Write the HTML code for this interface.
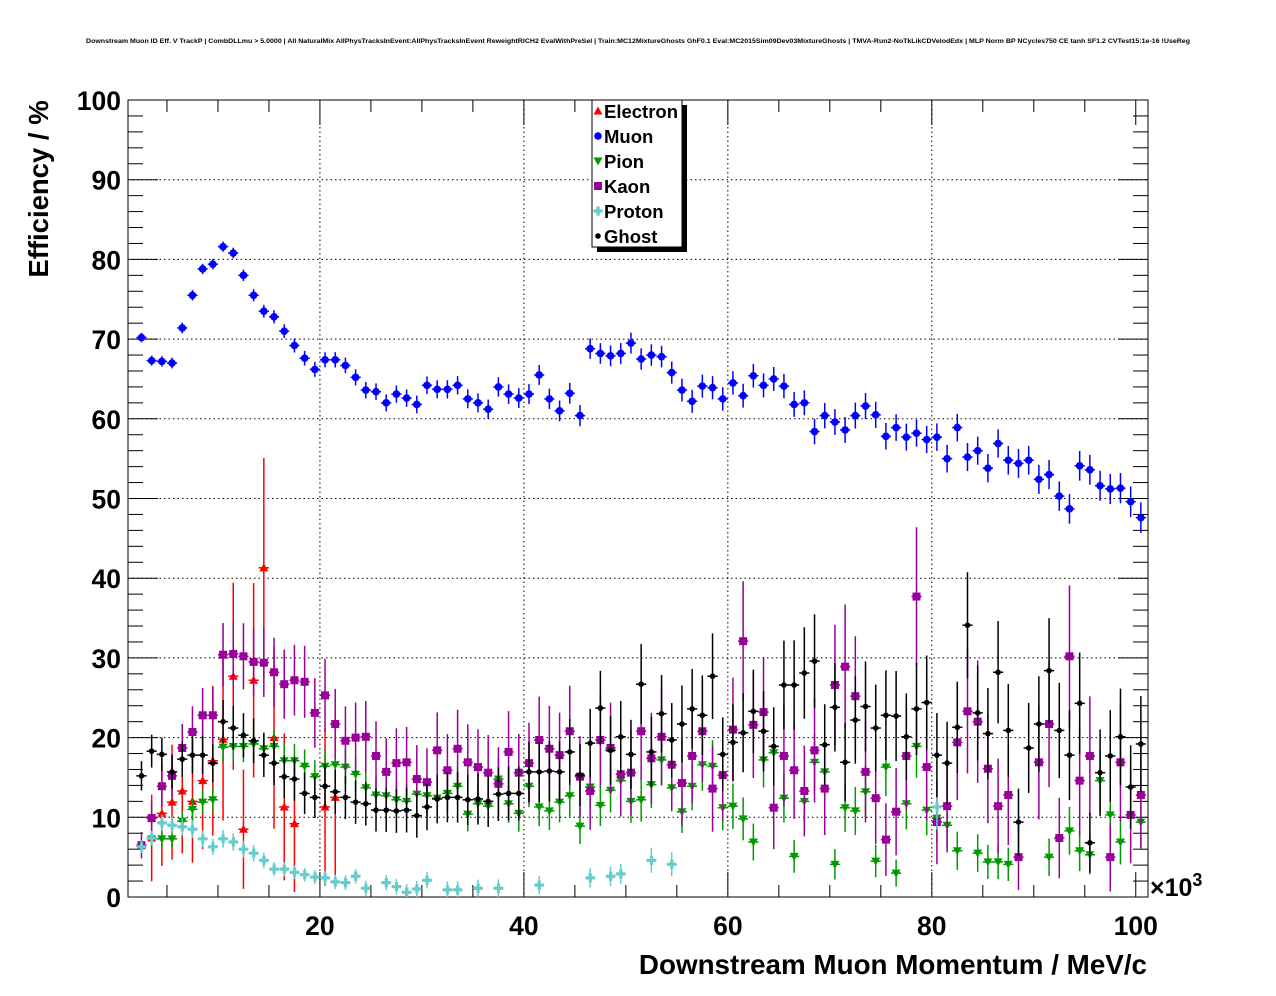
<!DOCTYPE html>
<html><head><meta charset="utf-8"><style>
html,body{margin:0;padding:0;background:#fff;}
svg{display:block;font-family:"Liberation Sans",Arial,sans-serif;}
</style></head><body>
<svg id="chart" width="1276" height="996" viewBox="0 0 1276 996" xmlns="http://www.w3.org/2000/svg">
<rect x="0" y="0" width="1276" height="996" fill="#fff"/>
<text x="638" y="43" text-anchor="middle" font-size="6.5" font-weight="bold" textLength="1104" lengthAdjust="spacingAndGlyphs">Downstream Muon ID Eff. V TrackP | CombDLLmu &gt; 5.0000 | All NaturalMix AllPhysTracksInEvent:AllPhysTracksInEvent ReweightRICH2 EvalWithPreSel | Train:MC12MixtureGhosts GhF0.1 Eval:MC2015Sim09Dev03MixtureGhosts | TMVA-Run2-NoTkLikCDVelodEdx | MLP Norm BP NCycles750 CE tanh SF1.2 CVTest15:1e-16 !UseReg</text>
<g id="grid"></g>
<g id="axes"></g>
<g id="marks"></g>
<text x="0" y="0" transform="translate(48,189) rotate(-90)" text-anchor="middle" font-size="27.5" font-weight="bold">Efficiency / %</text>
<text x="1147" y="974" text-anchor="end" font-size="27.8" font-weight="bold">Downstream Muon Momentum / MeV/c</text>
<text x="1150" y="896" font-size="25" font-weight="bold">×10<tspan dy="-10" font-size="18">3</tspan></text>
<g id="legend"></g>
</svg>
<script>
const xMin = 1.18, xMax = 101.2, yMin = 0, yMax = 100;
const yTicks = [0,10,20,30,40,50,60,70,80,90,100];
const xTicks = [20,40,60,80,100];
const binCenters = [];
for (let i = 0; i < 99; i++) binCenters.push(2.5 + i);
const N = null;
const muon = [70.2,67.3,67.2,67.0,71.4,75.5,78.8,79.4,81.6,80.8,
78.0,75.5,73.5,72.8,71.0,69.2,67.6,66.2,67.4,67.4,
66.7,65.2,63.6,63.4,62.0,63.1,62.6,61.8,64.2,63.7,
63.7,64.2,62.5,62.0,61.2,64.0,63.1,62.6,63.1,65.5,
62.5,61.0,63.2,60.4,68.8,68.2,67.9,68.2,69.5,67.5,
68.0,67.8,65.8,63.6,62.2,64.1,63.9,62.5,64.5,62.9,
65.4,64.2,65.0,64.1,61.8,62.0,58.4,60.4,59.6,58.6,
60.4,61.6,60.5,57.8,58.9,57.7,58.2,57.4,57.7,55.0,
58.9,55.2,56.0,53.8,56.9,54.8,54.4,54.8,52.4,53.0,
50.3,48.7,54.1,53.6,51.6,51.2,51.3,49.6,47.6];
const ghost = [15.2,18.3,17.9,15.7,17.3,17.8,17.8,16.8,22.0,21.2,
20.3,19.6,17.8,16.8,15.1,14.8,13.0,12.5,13.9,13.2,
12.5,11.9,11.7,10.9,10.9,10.8,10.9,10.2,11.3,12.3,
12.5,12.5,12.2,12.3,12.0,12.9,13.0,13.0,15.7,15.7,
15.8,15.7,18.2,15.3,19.3,23.7,18.4,20.1,17.9,26.7,
18.2,23.0,19.7,21.7,23.6,22.8,27.7,17.9,19.4,20.6,
23.3,20.8,18.9,26.6,26.6,28.1,29.6,19.1,23.8,16.9,
22.2,23.9,21.2,22.8,22.7,20.1,23.6,24.4,17.8,16.8,
21.3,34.1,23.1,20.5,28.2,20.9,9.4,18.7,21.7,28.4,
20.9,17.8,24.3,6.8,15.6,17.7,20.1,13.8,19.2];
const kaon = [6.5,9.9,13.9,15.2,18.7,20.7,22.8,22.8,30.4,30.5,
30.2,29.5,29.4,28.2,26.7,27.2,27.0,23.1,25.3,21.7,
19.6,20.0,20.1,17.7,15.7,16.8,16.9,14.8,14.4,18.4,
15.9,18.6,16.9,16.3,15.6,14.2,18.2,15.6,16.8,19.7,
18.6,17.8,20.8,15.1,13.3,19.7,18.7,15.4,15.6,20.8,
17.4,20.1,16.6,14.3,17.7,20.8,13.6,15.3,21.0,32.1,
21.6,23.2,11.2,17.7,15.9,13.3,18.4,13.6,26.6,28.9,
25.2,15.7,12.4,7.2,10.7,17.7,37.7,16.3,9.4,11.4,
19.4,23.3,22.0,16.1,11.4,12.8,5.0,N,16.9,21.7,
7.4,30.2,14.6,17.7,N,5.0,16.9,10.3,12.8];
const pion = [N,7.3,7.3,7.3,9.5,11.0,11.9,12.2,18.8,18.9,
18.9,19.2,18.6,18.9,17.1,17.1,16.4,15.1,16.4,16.6,
16.3,15.4,13.7,12.8,12.7,12.2,12.0,12.9,12.7,12.4,
13.0,13.9,10.4,11.7,11.4,14.8,11.7,10.5,13.9,11.3,
10.8,11.9,12.7,8.9,13.8,11.5,13.4,14.6,12.0,12.2,
14.1,17.2,13.7,10.7,13.9,16.6,16.4,11.2,11.4,9.8,
6.9,17.2,18.1,12.4,5.1,12.0,16.9,15.7,4.1,11.2,
10.8,13.2,4.5,16.3,3.0,11.7,18.9,10.9,9.9,9.0,
5.8,N,5.5,4.4,4.4,4.1,N,N,N,5.0,
N,8.3,5.8,5.3,14.6,10.3,6.9,N,9.4];
const electron = [N,7.4,10.5,11.9,13.3,12.0,14.6,17.1,19.8,27.7,
8.5,27.2,41.3,20.0,11.3,9.2,N,N,11.3,12.5];
const proton = [6.3,7.4,9.3,9.0,8.8,8.5,7.3,6.3,7.3,6.9,
6.0,5.5,4.6,3.5,3.5,3.1,2.8,2.5,2.4,1.9,
1.8,2.6,1.1,N,1.8,1.3,0.6,1.0,2.1,N,
0.9,0.9,N,1.1,N,1.1,N,N,N,1.5,
N,N,N,N,2.4,N,2.6,2.9,N,N,
4.6,N,4.1,N,N,N,N,N,N,N,
N,N,N,N,N,N,N,N,N,N,
N,N,N,N,N,N,N,N,11.3];
const seriesNames = ['Electron','Muon','Pion','Kaon','Proton','Ghost'];
const seriesColors = ['#ff0000','#0000ff','#009900','#990099','#66cccc','#000000'];
const seriesN0 = [25, 6000, 700, 220, 900, 380];

const L = 128, R = 1148, T = 100, B = 897;
const sx = v => L + (v - xMin) / (xMax - xMin) * (R - L);
const sy = v => B - (v - yMin) / (yMax - yMin) * (B - T);
const NS = 'http://www.w3.org/2000/svg';
function mk(tag, attrs, parent) {
  const e = document.createElementNS(NS, tag);
  for (const k in attrs) e.setAttribute(k, attrs[k]);
  parent.appendChild(e);
  return e;
}
const grid = document.getElementById('grid');
const axes = document.getElementById('axes');
const marks = document.getElementById('marks');
const legend = document.getElementById('legend');

yTicks.forEach(t => {
  if (t > yMin && t < yMax) {
    const g = mk('line', {x1:L, x2:R, y1:sy(t), y2:sy(t), stroke:'#000', 'stroke-width':1, 'stroke-dasharray':'1.5,3'}, grid);
    
    
  }
  const lb = mk('text', {x:L-7, y:sy(t)+10, 'text-anchor':'end', 'font-size':26.5, 'font-weight':'bold'}, axes);
  lb.textContent = t;
  
  
});
xTicks.forEach(t => {
  if (t < 100) {
    const g = mk('line', {x1:sx(t), x2:sx(t), y1:T, y2:B, stroke:'#000', 'stroke-width':1, 'stroke-dasharray':'1.5,3'}, grid);
    
    
  }
  const lb = mk('text', {x:sx(t), y:935, 'text-anchor':'middle', 'font-size':26.5, 'font-weight':'bold'}, axes);
  lb.textContent = t;
  
  
});
for (let v = 0; v <= 100; v += 2) {
  const len = v % 10 === 0 ? 30 : 15;
  mk('line', {x1:L, x2:L+len, y1:sy(v), y2:sy(v), stroke:'#000'}, axes);
  mk('line', {x1:R, x2:R-len, y1:sy(v), y2:sy(v), stroke:'#000'}, axes);
}
for (let v = 5; v <= 100; v += 5) {
  const len = v % 20 === 0 ? 25 : 12;
  mk('line', {x1:sx(v), x2:sx(v), y1:B, y2:B-len, stroke:'#000'}, axes);
  mk('line', {x1:sx(v), x2:sx(v), y1:T, y2:T+len, stroke:'#000'}, axes);
}
const frame = mk('rect', {x:L, y:T, width:R-L, height:B-T, fill:'none', stroke:'#000', 'stroke-width':1}, axes);



function marker(type, cx, cy, color, parent) {
  let e;
  if (type === 0) e = mk('polygon', {points:`${cx},${cy-4.5} ${cx-4.5},${cy+3.5} ${cx+4.5},${cy+3.5}`, fill:color}, parent);
  else if (type === 1) e = mk('circle', {cx:cx, cy:cy, r:3.8, fill:color}, parent);
  else if (type === 2) e = mk('polygon', {points:`${cx},${cy+4.5} ${cx-4.5},${cy-3.5} ${cx+4.5},${cy-3.5}`, fill:color}, parent);
  else if (type === 3) e = mk('rect', {x:cx-4, y:cy-4, width:8, height:8, fill:color}, parent);
  else if (type === 4) e = mk('path', {d:`M${cx-4.5},${cy-1.6}h3v-3h3.2v3h3v3.2h-3v3h-3.2v-3h-3z`, fill:color}, parent);
  else e = mk('circle', {cx:cx, cy:cy, r:2.8, fill:color}, parent);
  return e;
}
const allSeries = [electron, muon, pion, kaon, proton, ghost];
allSeries.forEach((arr, s) => {
  const g = mk('g', {}, marks);
  
  
  const col = seriesColors[s];
  arr.forEach((v, i) => {
    if (v === null || v === undefined) return;
    const p = binCenters[i];
    const cx = sx(p), cy = sy(v);
    const n = seriesN0[s] / (1 + i * 0.08);
    const f = Math.max(v, 3) / 100;
    const err = 100 * Math.sqrt(f * (1 - f) / n);
    const eb = mk('line', {x1:cx, x2:cx, y1:Math.max(T, sy(v+err)), y2:Math.min(B, sy(Math.max(0, v-err))), stroke:col, 'stroke-width':1.5}, g);
    
    
    mk('line', {x1:sx(p-0.5), x2:sx(p+0.5), y1:cy, y2:cy, stroke:col, 'stroke-width':1.5}, g);
    const m = marker(s, cx, cy, col, g);
    
    
  });
});

mk('rect', {x:597, y:105, width:90, height:147, fill:'#000'}, legend);
const lbox = mk('rect', {x:592, y:100, width:90, height:147, fill:'#fff', stroke:'#000'}, legend);


seriesNames.forEach((nm, s) => {
  const y = 111 + s * 25;
  const ent = mk('g', {}, legend);
  
  
  marker(s, 598, y, seriesColors[s], ent);
  const t = mk('text', {x:604, y:y+7, 'font-size':18.5, 'font-weight':'bold'}, ent);
  t.textContent = nm;
});
</script>
</body></html>
